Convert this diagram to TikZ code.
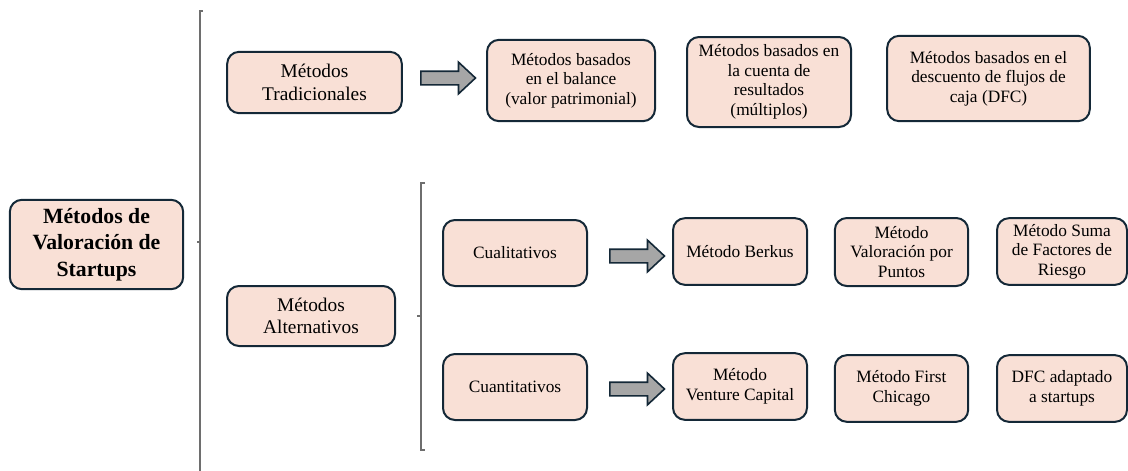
\documentclass[tikz,border=0pt]{standalone}
\usepackage{fontspec}
\setmainfont{Liberation Serif}
\newfontfamily\boxfont{Liberation Serif}
\usetikzlibrary{shapes.arrows, positioning}
\definecolor{boxfill}{RGB}{249,224,214}
\definecolor{boxline}{RGB}{20,40,55}
\definecolor{arrowgray}{RGB}{166,166,166}
\definecolor{bracegray}{RGB}{110,110,110}
\tikzset{
  method/.style={draw=boxline, fill=boxfill, line width=1.5pt, rounded corners=9pt,
    align=center, inner sep=0pt, font=\boxfont\fontsize{13}{14.6}\selectfont},
  group/.style={method, font=\boxfont\fontsize{14.5}{17}\selectfont},
  root/.style={method, font=\boxfont\fontsize{16.3}{20}\selectfont\bfseries},
  bigarrow/.style={single arrow, draw=boxline, fill=arrowgray, line width=1.2pt,
    inner sep=0pt, text height=4.5pt, text depth=4.5pt, text width=0pt,
    minimum height=41pt, single arrow head extend=6.75pt, single arrow tip angle=86},
  bracket/.style={draw=bracegray, line width=1.1pt}
}
\begin{document}
\begin{tikzpicture}[x=0.75pt, y=-0.75pt]
\useasboundingbox (0,0) rectangle (1128,471);

\node [root, minimum width=130pt, minimum height=67pt] (root) at (96.5,244.5) {Métodos de\\Valoración de\\Startups};

\node [group, minimum width=131pt, minimum height=46pt] (trad) at (314.5,82.5) {Métodos\\Tradicionales};
\node [group, minimum width=126pt, minimum height=45pt] (alt) at (311,316) {Métodos\\Alternativos};

\node [method, minimum width=126pt, minimum height=61pt] (balance) at (571,80.5) {Métodos basados\\en el balance\\(valor patrimonial)};
\node [method, minimum width=123pt, minimum height=67.5pt] (cuenta) at (769,82) {Métodos basados en\\la cuenta de\\resultados\\(múltiplos)};
\node [method, minimum width=152pt, minimum height=64pt] (dfc) at (988.5,78.5) {Métodos basados en el\\descuento de flujos de\\caja (DFC)};

\node [method, minimum width=108pt, minimum height=49.5pt] (cual) at (515,253) {Cualitativos};
\node [method, minimum width=108pt, minimum height=49.5pt] (cuant) at (515,387) {Cuantitativos};

\node [method, minimum width=100.5pt, minimum height=50pt] (berkus) at (740,251.5) {Método Berkus};
\node [method, minimum width=100pt, minimum height=51pt] (puntos) at (901.5,252) {Método\\Valoración por\\Puntos};
\node [method, minimum width=97.5pt, minimum height=50pt] (riesgo) at (1062,251.5) {Método Suma\\de Factores de\\Riesgo};

\node [method, minimum width=100.5pt, minimum height=50pt] (vc) at (740,386.5) {Método\\Venture Capital};
\node [method, minimum width=100pt, minimum height=50pt] (chicago) at (901.5,388.5) {Método First\\Chicago};
\node [method, minimum width=97.5pt, minimum height=50pt] (adapt) at (1062,388.5) {DFC adaptado\\a startups};

\node [bigarrow] (A1) at (444.5,78) {};
\node [bigarrow] (A2) at (633.5,256) {};
\node [bigarrow] (A3) at (633.5,389) {};

\draw [bracket] (203,11) -- (200,11) -- (200,471);
\draw [bracket] (200,242) -- (197,242);
\draw [bracket] (425,183) -- (421,183) -- (421,450) -- (425,450);
\draw [bracket] (421,316) -- (417,316);

\end{tikzpicture}
\end{document}
